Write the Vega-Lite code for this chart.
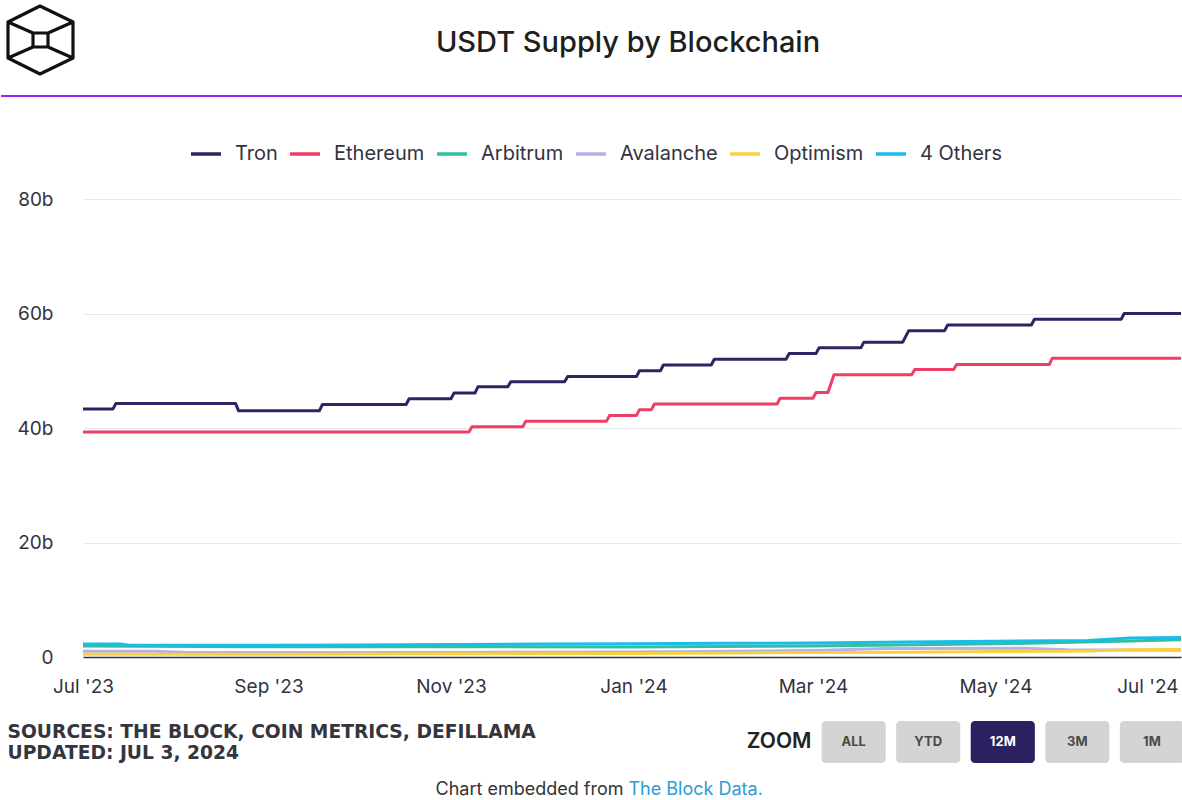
{
  "$schema": "https://vega.github.io/schema/vega-lite/v6.json",
  "background": "white",
  "padding": {"left": 0, "top": 0, "right": 0, "bottom": 0},
  "config": {"view": {"stroke": null}, "font": "Inter"},
  "columns": 1,
  "align": "none",
  "spacing": 40,
  "resolve": {"scale": {"color": "independent"}, "legend": {"color": "independent"}},
  "concat": [
    {
      "width": 1182,
      "height": 96,
      "data": {"values": [{"k": 0}]},
      "title": {"text": "USDT Supply by Blockchain", "anchor": "middle", "frame": "group", "fontSize": 29, "fontWeight": 500, "color": "#1f1f1f", "offset": -58, "dx": 36, "font": "Inter"},
      "layer": [
        {
          "mark": {"type": "point", "shape": "M39,6L72,22L72,58L39,74L7,58L7,22Z M32,33L47,33L47,47L32,47Z M7,22L32,33 M72,22L47,33 M7,58L32,47 M72,58L47,47", "size": 4, "filled": false, "color": "#111111", "strokeWidth": 3.2, "opacity": 1, "strokeJoin": "round", "strokeCap": "round"},
          "encoding": {
            "x": {"datum": 0, "type": "quantitative", "scale": {"domain": [0, 1]}, "axis": null},
            "y": {"datum": 1, "type": "quantitative", "scale": {"domain": [0, 1]}, "axis": null}
          }
        },
        {
          "mark": {"type": "rule", "color": "#a020f0", "strokeWidth": 2},
          "encoding": {"y": {"datum": 0, "type": "quantitative"}}
        }
      ]
    },
    {
      "columns": 1,
      "align": "none",
      "spacing": 25,
      "resolve": {"scale": {"color": "independent"}, "legend": {"color": "independent"}},
      "concat": [
        {
          "spacing": 0,
          "resolve": {"scale": {"color": "independent"}, "legend": {"color": "independent"}},
          "hconcat": [
            {
              "width": 1, "height": 1,
              "data": {"values": [{"k": 0}]},
              "mark": {"type": "text", "text": ""}
            },
            {
              "width": 1098,
              "height": 458,
              "data": {"values": [
                {"series": "Tron", "date": "2023-07-01", "value": 43.3},
                {"series": "Tron", "date": "2023-07-11", "value": 43.3},
                {"series": "Tron", "date": "2023-07-12", "value": 44.3},
                {"series": "Tron", "date": "2023-08-21", "value": 44.3},
                {"series": "Tron", "date": "2023-08-22", "value": 43.0},
                {"series": "Tron", "date": "2023-09-18", "value": 43.0},
                {"series": "Tron", "date": "2023-09-19", "value": 44.1},
                {"series": "Tron", "date": "2023-10-17", "value": 44.1},
                {"series": "Tron", "date": "2023-10-18", "value": 45.1},
                {"series": "Tron", "date": "2023-11-01", "value": 45.1},
                {"series": "Tron", "date": "2023-11-02", "value": 46.1},
                {"series": "Tron", "date": "2023-11-09", "value": 46.1},
                {"series": "Tron", "date": "2023-11-10", "value": 47.2},
                {"series": "Tron", "date": "2023-11-20", "value": 47.2},
                {"series": "Tron", "date": "2023-11-21", "value": 48.1},
                {"series": "Tron", "date": "2023-12-09", "value": 48.1},
                {"series": "Tron", "date": "2023-12-10", "value": 49.0},
                {"series": "Tron", "date": "2024-01-02", "value": 49.0},
                {"series": "Tron", "date": "2024-01-03", "value": 50.0},
                {"series": "Tron", "date": "2024-01-10", "value": 50.0},
                {"series": "Tron", "date": "2024-01-11", "value": 51.0},
                {"series": "Tron", "date": "2024-01-27", "value": 51.0},
                {"series": "Tron", "date": "2024-01-28", "value": 52.0},
                {"series": "Tron", "date": "2024-02-21", "value": 52.0},
                {"series": "Tron", "date": "2024-02-22", "value": 53.0},
                {"series": "Tron", "date": "2024-03-02", "value": 53.0},
                {"series": "Tron", "date": "2024-03-03", "value": 54.0},
                {"series": "Tron", "date": "2024-03-17", "value": 54.0},
                {"series": "Tron", "date": "2024-03-18", "value": 55.0},
                {"series": "Tron", "date": "2024-03-31", "value": 55.0},
                {"series": "Tron", "date": "2024-04-02", "value": 57.0},
                {"series": "Tron", "date": "2024-04-14", "value": 57.0},
                {"series": "Tron", "date": "2024-04-15", "value": 58.0},
                {"series": "Tron", "date": "2024-05-13", "value": 58.0},
                {"series": "Tron", "date": "2024-05-14", "value": 59.0},
                {"series": "Tron", "date": "2024-06-12", "value": 59.0},
                {"series": "Tron", "date": "2024-06-13", "value": 60.0},
                {"series": "Tron", "date": "2024-07-02", "value": 60.0},
                {"series": "Ethereum", "date": "2023-07-01", "value": 39.3},
                {"series": "Ethereum", "date": "2023-11-07", "value": 39.3},
                {"series": "Ethereum", "date": "2023-11-08", "value": 40.2},
                {"series": "Ethereum", "date": "2023-11-25", "value": 40.2},
                {"series": "Ethereum", "date": "2023-11-26", "value": 41.2},
                {"series": "Ethereum", "date": "2023-12-23", "value": 41.2},
                {"series": "Ethereum", "date": "2023-12-24", "value": 42.2},
                {"series": "Ethereum", "date": "2024-01-02", "value": 42.2},
                {"series": "Ethereum", "date": "2024-01-03", "value": 43.2},
                {"series": "Ethereum", "date": "2024-01-07", "value": 43.2},
                {"series": "Ethereum", "date": "2024-01-08", "value": 44.2},
                {"series": "Ethereum", "date": "2024-02-18", "value": 44.2},
                {"series": "Ethereum", "date": "2024-02-19", "value": 45.2},
                {"series": "Ethereum", "date": "2024-03-01", "value": 45.2},
                {"series": "Ethereum", "date": "2024-03-02", "value": 46.2},
                {"series": "Ethereum", "date": "2024-03-06", "value": 46.2},
                {"series": "Ethereum", "date": "2024-03-08", "value": 49.3},
                {"series": "Ethereum", "date": "2024-04-03", "value": 49.3},
                {"series": "Ethereum", "date": "2024-04-04", "value": 50.2},
                {"series": "Ethereum", "date": "2024-04-17", "value": 50.2},
                {"series": "Ethereum", "date": "2024-04-18", "value": 51.1},
                {"series": "Ethereum", "date": "2024-05-19", "value": 51.1},
                {"series": "Ethereum", "date": "2024-05-20", "value": 52.2},
                {"series": "Ethereum", "date": "2024-07-02", "value": 52.2},
                {"series": "Arbitrum", "date": "2023-07-01", "value": 1.9},
                {"series": "Arbitrum", "date": "2023-09-01", "value": 1.8},
                {"series": "Arbitrum", "date": "2023-11-01", "value": 1.8},
                {"series": "Arbitrum", "date": "2024-01-01", "value": 1.75},
                {"series": "Arbitrum", "date": "2024-03-01", "value": 1.9},
                {"series": "Arbitrum", "date": "2024-05-01", "value": 2.3},
                {"series": "Arbitrum", "date": "2024-06-15", "value": 2.8},
                {"series": "Arbitrum", "date": "2024-07-02", "value": 3.0},
                {"series": "Avalanche", "date": "2023-07-01", "value": 1.0},
                {"series": "Avalanche", "date": "2023-07-25", "value": 1.0},
                {"series": "Avalanche", "date": "2023-08-05", "value": 0.8},
                {"series": "Avalanche", "date": "2023-10-01", "value": 0.8},
                {"series": "Avalanche", "date": "2023-12-01", "value": 0.85},
                {"series": "Avalanche", "date": "2024-01-15", "value": 0.9},
                {"series": "Avalanche", "date": "2024-03-01", "value": 1.15},
                {"series": "Avalanche", "date": "2024-03-25", "value": 1.5},
                {"series": "Avalanche", "date": "2024-05-10", "value": 1.55},
                {"series": "Avalanche", "date": "2024-05-25", "value": 1.25},
                {"series": "Avalanche", "date": "2024-07-02", "value": 1.2},
                {"series": "Optimism", "date": "2023-07-01", "value": 0.5},
                {"series": "Optimism", "date": "2023-09-01", "value": 0.5},
                {"series": "Optimism", "date": "2023-11-01", "value": 0.55},
                {"series": "Optimism", "date": "2024-01-01", "value": 0.6},
                {"series": "Optimism", "date": "2024-02-01", "value": 0.7},
                {"series": "Optimism", "date": "2024-03-01", "value": 0.8},
                {"series": "Optimism", "date": "2024-04-01", "value": 0.85},
                {"series": "Optimism", "date": "2024-05-01", "value": 0.95},
                {"series": "Optimism", "date": "2024-06-01", "value": 1.05},
                {"series": "Optimism", "date": "2024-06-15", "value": 1.25},
                {"series": "Optimism", "date": "2024-07-02", "value": 1.3},
                {"series": "4 Others", "date": "2023-07-01", "value": 2.25},
                {"series": "4 Others", "date": "2023-07-14", "value": 2.25},
                {"series": "4 Others", "date": "2023-07-16", "value": 2.1},
                {"series": "4 Others", "date": "2023-09-01", "value": 2.05},
                {"series": "4 Others", "date": "2023-10-01", "value": 2.1},
                {"series": "4 Others", "date": "2023-11-01", "value": 2.2},
                {"series": "4 Others", "date": "2023-12-01", "value": 2.25},
                {"series": "4 Others", "date": "2024-01-01", "value": 2.3},
                {"series": "4 Others", "date": "2024-02-01", "value": 2.4},
                {"series": "4 Others", "date": "2024-03-01", "value": 2.45},
                {"series": "4 Others", "date": "2024-04-01", "value": 2.6},
                {"series": "4 Others", "date": "2024-05-01", "value": 2.75},
                {"series": "4 Others", "date": "2024-06-01", "value": 2.9},
                {"series": "4 Others", "date": "2024-06-15", "value": 3.3},
                {"series": "4 Others", "date": "2024-07-02", "value": 3.4}
              ]},
              "mark": {"type": "line", "strokeWidth": 3, "strokeJoin": "round"},
              "encoding": {
                "x": {
                  "field": "date", "type": "temporal",
                  "scale": {"type": "utc", "domain": [{"year": 2023, "month": 7, "date": 1, "utc": true}, {"year": 2024, "month": 7, "date": 2, "utc": true}]},
                  "axis": {
                    "values": [
                      {"year": 2023, "month": 7, "date": 1, "utc": true},
                      {"year": 2023, "month": 9, "date": 1, "utc": true},
                      {"year": 2023, "month": 11, "date": 1, "utc": true},
                      {"year": 2024, "month": 1, "date": 1, "utc": true},
                      {"year": 2024, "month": 3, "date": 1, "utc": true},
                      {"year": 2024, "month": 5, "date": 1, "utc": true},
                      {"year": 2024, "month": 7, "date": 1, "utc": true}
                    ],
                    "format": "%b '%y",
                    "grid": false, "ticks": false, "tickSize": 0,
                    "domain": true, "domainColor": "#333333", "domainWidth": 1.5,
                    "labelFontSize": 19, "labelColor": "#333340", "labelPadding": 20,
                    "labelOverlap": false, "labelFlush": false,
                    "labelAlign": {"condition": {"test": "datum.value > 1717200000000", "value": "right"}, "value": "center"},
                    "title": null
                  }
                },
                "y": {
                  "field": "value", "type": "quantitative",
                  "scale": {"domain": [0, 80], "nice": false},
                  "axis": {
                    "values": [0, 20, 40, 60, 80],
                    "labelExpr": "datum.value == 0 ? '0' : datum.value + 'b'",
                    "grid": true, "gridColor": "#e8e8e8", "gridWidth": 1,
                    "domain": false, "ticks": false, "tickSize": 0,
                    "labelPadding": 30, "labelFontSize": 19, "labelColor": "#333340",
                    "title": null, "minExtent": 81, "maxExtent": 81
                  }
                },
                "color": {
                  "field": "series", "type": "nominal",
                  "scale": {
                    "domain": ["Tron", "Ethereum", "Arbitrum", "Avalanche", "Optimism", "4 Others"],
                    "range": ["#2c2562", "#ee3e66", "#30bfa0", "#b9aee8", "#f7d23e", "#19bde8"]
                  },
                  "legend": {
                    "orient": "none", "legendX": 106, "legendY": -62, "direction": "horizontal",
                    "title": null, "symbolType": "stroke", "symbolStrokeWidth": 3.5, "symbolSize": 900,
                    "labelFontSize": 20, "labelColor": "#333340", "labelFont": "Inter",
                    "columnPadding": 5, "labelOffset": 12, "padding": 0, "symbolOpacity": 1
                  }
                }
              }
            }
          ]
        },
        {
          "columns": 1,
          "align": "none",
          "spacing": 18,
          "concat": [
            {
              "spacing": 210,
              "hconcat": [
                {
                  "width": 13, "height": 42,
                  "data": {"values": [
                    {"line": "SOURCES: THE BLOCK, COIN METRICS, DEFILLAMA"},
                    {"line": "UPDATED: JUL 3, 2024"}
                  ]},
                  "mark": {"type": "text", "align": "left", "baseline": "middle", "font": "DejaVu Sans", "fontWeight": "bold", "fontSize": 18.7, "color": "#35353f"},
                  "encoding": {
                    "y": {"field": "line", "type": "nominal", "sort": null, "axis": null},
                    "text": {"field": "line"}
                  }
                },
                {
                  "width": 437, "height": 42,
                  "data": {"values": [
                    {"label": "ZOOM", "kind": "title"},
                    {"label": "ALL", "kind": "off"},
                    {"label": "YTD", "kind": "off"},
                    {"label": "12M", "kind": "on"},
                    {"label": "3M", "kind": "off"},
                    {"label": "1M", "kind": "off"}
                  ]},
                  "encoding": {
                    "x": {"field": "label", "type": "nominal", "axis": null, "scale": {"domain": ["ZOOM", "ALL", "YTD", "12M", "3M", "1M"], "paddingInner": 0.14, "paddingOuter": 0}}
                  },
                  "layer": [
                    {
                      "transform": [{"filter": "datum.kind != 'title'"}],
                      "mark": {"type": "rect", "cornerRadius": 4},
                      "encoding": {"fill": {"condition": {"test": "datum.kind == 'on'", "value": "#2b2160"}, "value": "#d4d4d4"}}
                    },
                    {
                      "transform": [{"filter": "datum.kind != 'title'"}],
                      "mark": {"type": "text", "fontSize": 13, "fontWeight": "bold", "font": "Inter"},
                      "encoding": {
                        "text": {"field": "label"},
                        "color": {"condition": {"test": "datum.kind == 'on'", "value": "#ffffff"}, "value": "#4a4a4a"}
                      }
                    },
                    {
                      "transform": [{"filter": "datum.kind == 'title'"}],
                      "mark": {"type": "text", "fontSize": 21, "fontWeight": 600, "font": "Inter", "color": "#222222"},
                      "encoding": {"text": {"field": "label"}}
                    }
                  ]
                }
              ]
            },
            {
              "spacing": 4,
              "hconcat": [
                {
                  "width": 430, "height": 18,
                  "data": {"values": [{"k": 0}]},
                  "mark": {"type": "text", "text": ""}
                },
                {
                  "width": 1, "height": 18,
                  "data": {"values": [{"t": "Chart embedded from"}]},
                  "mark": {"type": "text", "align": "left", "baseline": "middle", "fontSize": 18, "font": "Inter", "color": "#333333"},
                  "encoding": {"text": {"field": "t"}}
                },
                {
                  "width": 1, "height": 18,
                  "data": {"values": [{"t": "The Block Data."}]},
                  "mark": {"type": "text", "align": "left", "baseline": "middle", "fontSize": 18, "font": "Inter", "color": "#2b9bd6"},
                  "encoding": {"text": {"field": "t"}}
                }
              ]
            }
          ]
        }
      ]
    }
  ]
}
